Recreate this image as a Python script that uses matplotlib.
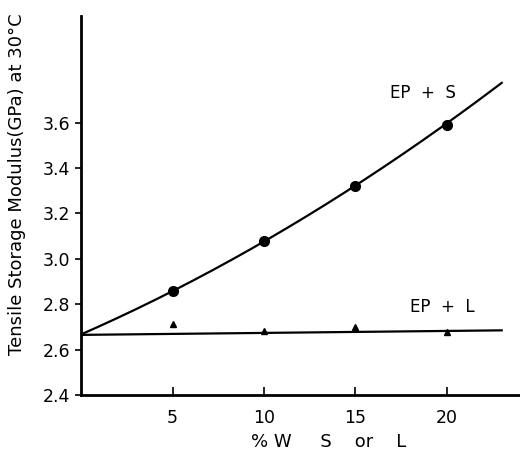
import matplotlib
matplotlib.use("Agg")
import matplotlib.pyplot as plt
import numpy as np

# values
pct = [5, 10, 15, 20]
ep_s = [2.86, 3.08, 3.32, 3.59]
ep_l = [2.715, 2.68, 2.70, 2.677]

# smooth curves drawn through the figure (read at start / end)
s_curve_x = [0, 5, 10, 15, 20, 23]
s_curve_y = [2.665, 2.86, 3.08, 3.32, 3.59, 3.78]
l_line_x = [0, 23]
l_line_y = [2.665, 2.685]

yticks = [2.4, 2.6, 2.8, 3.0, 3.2, 3.4, 3.6]
xticks = [5, 10, 15, 20]

plt.rcParams['font.family'] = ['DejaVu Sans']

fig = plt.figure(figsize=(5.2, 4.51), dpi=100)
ax = fig.add_axes([0.156, 0.124, 0.844, 0.841])

coef = np.polyfit(s_curve_x, s_curve_y, 2)
xs = np.linspace(s_curve_x[0], s_curve_x[-1], 200)
ax.plot(xs, np.polyval(coef, xs), color='black', lw=1.6)
ax.plot(l_line_x, l_line_y, color='black', lw=1.6)

ax.plot(pct, ep_s, 'o', color='black', ms=7)
ax.plot(pct, ep_l, '^', color='black', ms=5)

ax.text(16.9, 3.71, 'EP  +  S', fontsize=12)
ax.text(18.0, 2.765, 'EP  +  L', fontsize=12)

ax.set_xlim(0, 24)
ax.set_ylim(2.4, 4.07)
ax.set_xticks(xticks)
ax.set_xticklabels([str(v) for v in xticks], fontsize=12.5)
ax.set_yticks(yticks)
ax.set_yticklabels(['%.1f' % v for v in yticks], fontsize=12.5)
ax.tick_params(axis='x', direction='in', length=6, width=1.2, pad=10)
ax.tick_params(axis='y', direction='out', length=4, width=1.2, pad=4)

for side in ['top', 'right']:
    ax.spines[side].set_visible(False)
for side in ['left', 'bottom']:
    ax.spines[side].set_linewidth(2)

ax.set_xlabel('% W     S    or    L', fontsize=13)
ax.xaxis.set_label_coords(0.563, -0.1)
ax.set_ylabel('Tensile Storage Modulus(GPa) at 30°C', fontsize=13)
ax.yaxis.set_label_coords(-0.125, 0.557)

fig.savefig('out.png', dpi=100)
